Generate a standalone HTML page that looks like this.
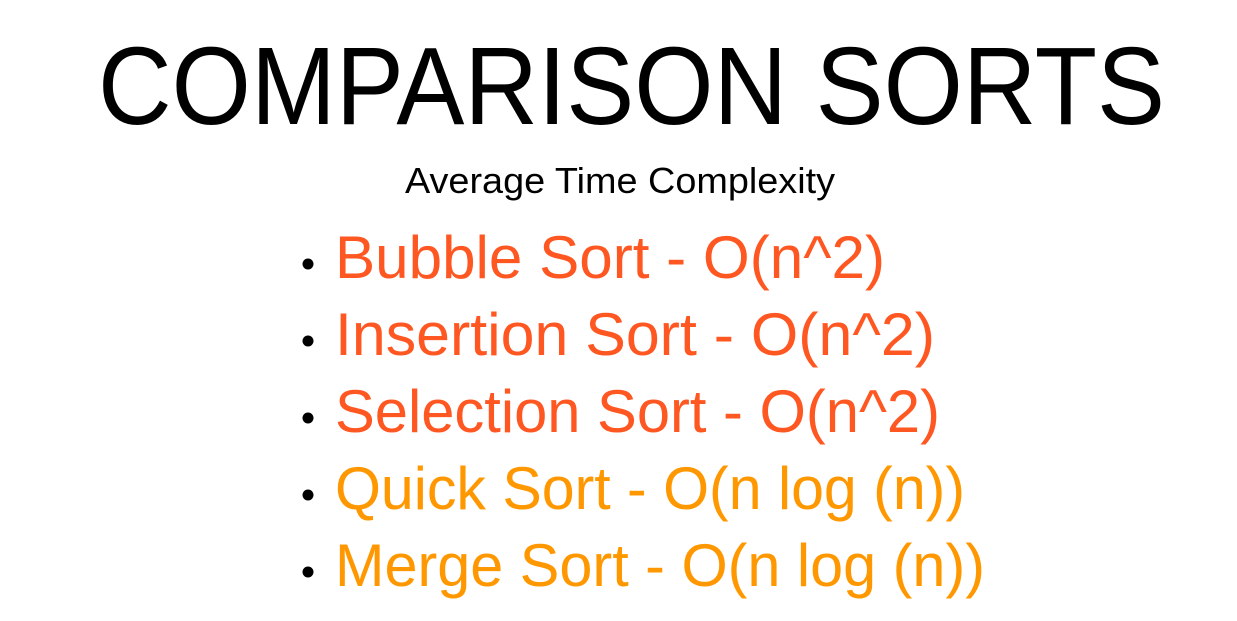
<!DOCTYPE html>
<html><head><meta charset="utf-8"><style>
html,body{margin:0;padding:0;background:#fff;}
svg{display:block;}
text{font-family:"Liberation Sans",sans-serif;}
</style></head><body>
<svg width="1237" height="621" viewBox="0 0 1237 621" xmlns="http://www.w3.org/2000/svg">
<rect width="1237" height="621" fill="#fff"/>
<text x="98" y="124" font-size="110" fill="#000" textLength="1067" lengthAdjust="spacingAndGlyphs">COMPARISON SORTS</text>
<text x="405" y="193" font-size="36" fill="#000" textLength="430" lengthAdjust="spacingAndGlyphs">Average Time Complexity</text>
<g fill="#000">
<circle cx="308" cy="264" r="5.5"/>
<circle cx="308" cy="341" r="5.5"/>
<circle cx="308" cy="418" r="5.5"/>
<circle cx="308" cy="495" r="5.5"/>
<circle cx="308" cy="572" r="5.5"/>
</g>
<g font-size="60">
<text x="335" y="278" fill="#FF5722" textLength="550" lengthAdjust="spacingAndGlyphs">Bubble Sort - O(n^2)</text>
<text x="335" y="355" fill="#FF5722" textLength="600" lengthAdjust="spacingAndGlyphs">Insertion Sort - O(n^2)</text>
<text x="335" y="432" fill="#FF5722" textLength="605" lengthAdjust="spacingAndGlyphs">Selection Sort - O(n^2)</text>
<text x="335" y="509" fill="#FF9800" textLength="630" lengthAdjust="spacingAndGlyphs">Quick Sort - O(n log (n))</text>
<text x="335" y="586" fill="#FF9800" textLength="650" lengthAdjust="spacingAndGlyphs">Merge Sort - O(n log (n))</text>
</g>
</svg>
</body></html>
